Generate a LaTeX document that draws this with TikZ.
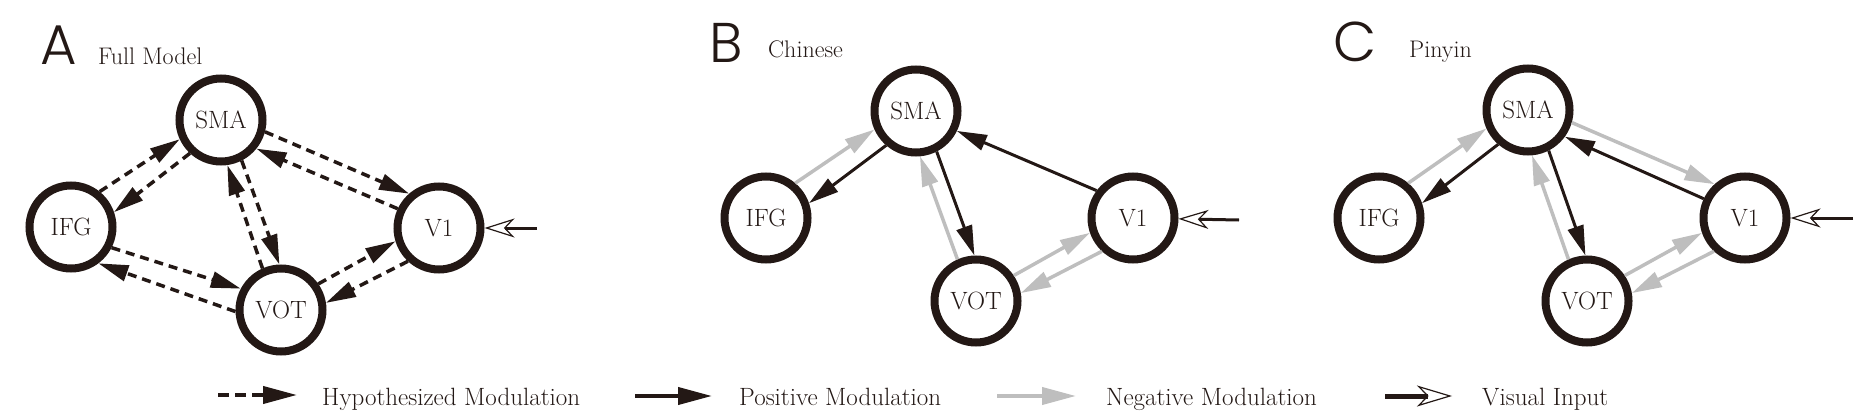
\documentclass[tikz,border=0pt]{standalone}
\usepackage{fontspec}
\usepackage{tikz}
\usetikzlibrary{arrows.meta}
\newfontfamily\panelfont{Poppins Light}
\definecolor{inkcol}{RGB}{35,24,21}
\definecolor{negcol}{RGB}{190,190,190}

\begin{document}
\begin{tikzpicture}[x=1pt, y=-1pt,
    region/.style={draw=inkcol, circle, line width=8pt, minimum size=83pt, inner sep=0pt, text=inkcol, font=\fontsize{25}{25}\selectfont},
    hypmod/.style={-{Triangle[length=30pt,width=16pt]}, draw=inkcol, line width=3.5pt, dash pattern=on 9pt off 6pt},
    posmod/.style={-{Triangle[length=30pt,width=16pt]}, draw=inkcol, line width=3pt},
    negmod/.style={-{Triangle[length=30pt,width=16pt]}, draw=negcol, line width=3.5pt},
    vismod/.style={-{Stealth[open,length=30pt,width=19pt,inset=9pt,line width=1.2pt]}, draw=inkcol, line width=3pt},
    keytip/.style={-{Triangle[length=34pt,width=17pt]}, line width=4pt},
    panel/.style={text=inkcol, anchor=base west, inner sep=0pt, font=\panelfont\fontsize{56}{56}\selectfont},
    title/.style={text=inkcol, anchor=base west, inner sep=0pt, font=\fontsize{24}{24}\selectfont},
    key/.style={text=inkcol, anchor=base west, inner sep=0pt, font=\fontsize{25}{25}\selectfont}]
    \useasboundingbox (0,0) rectangle (1863,420);

    % A: full model
    \node (letA) [panel] at (40,65) {A};
    \node (titA) [title] at (98,64) {Full Model};
    \node (smaA) [region] at (221,120) {SMA};
    \node (ifgA) [region] at (71,227) {IFG};
    \node (v1A) [region] at (439,228) {V1};
    \node (votA) [region] at (281,310) {VOT};
    \coordinate (inA) at (537,228);

    \draw[hypmod] (ifgA.51) -- (smaA.205);
    \draw[hypmod] (smaA.227) -- (ifgA.19);
    \draw[hypmod] (smaA.345) -- (v1A.131);
    \draw[hypmod] (v1A.155) -- (smaA.321);
    \draw[hypmod] (votA.114) -- (smaA.278);
    \draw[hypmod] (smaA.297) -- (votA.92);
    \draw[hypmod] (ifgA.333) -- (votA.152);
    \draw[hypmod] (votA.182) -- (ifgA.307);
    \draw[hypmod] (votA.35) -- (v1A.197);
    \draw[hypmod] (v1A.227) -- (votA.9);
    \draw[vismod] (inA) -- (v1A);

    % B: Chinese
    \node (letB) [panel] at (709,63) {B};
    \node (titB) [title] at (768,58) {Chinese};
    \node (smaB) [region] at (916,111) {SMA};
    \node (ifgB) [region] at (766,218) {IFG};
    \node (v1B) [region] at (1133,218) {V1};
    \node (votB) [region] at (976,301) {VOT};
    \coordinate (inB) at (1239,220);

    \draw[negmod] (ifgB.50) -- (smaB.204);
    \draw[posmod] (smaB.229) -- (ifgB.19);
    \draw[posmod] (smaB.297) -- (votB.92);
    \draw[negmod] (votB.114) -- (smaB.275);
    \draw[posmod] (v1B.143) -- (smaB.334);
    \draw[negmod] (votB.34) -- (v1B.199);
    \draw[negmod] (v1B.227) -- (votB.10);
    \draw[vismod] (inB) -- (v1B);

    % C: Pinyin
    \node (letC) [panel] at (1333,62) {C};
    \node (titC) [title] at (1409,58) {Pinyin};
    \node (smaC) [region] at (1528,110) {SMA};
    \node (ifgC) [region] at (1379,218) {IFG};
    \node (v1C) [region] at (1745,218) {V1};
    \node (votC) [region] at (1587,301) {VOT};
    \coordinate (inC) at (1853,218);

    \draw[negmod] (ifgC.50) -- (smaC.204);
    \draw[posmod] (smaC.229) -- (ifgC.19);
    \draw[posmod] (smaC.297) -- (votC.92);
    \draw[negmod] (votC.114) -- (smaC.275);
    \draw[negmod] (smaC.344) -- (v1C.132);
    \draw[posmod] (v1C.155) -- (smaC.324);
    \draw[negmod] (votC.34) -- (v1C.199);
    \draw[negmod] (v1C.227) -- (votC.10);
    \draw[vismod] (inC) -- (v1C);

    % legend
    \coordinate (hypS) at (218,395);
    \coordinate (hypE) at (297,395);
    \coordinate (posS) at (635,396);
    \coordinate (posE) at (712,396);
    \coordinate (negS) at (997,396);
    \coordinate (negE) at (1076,396);
    \coordinate (visS) at (1385,396);
    \coordinate (visE) at (1452,396);

    \draw[hypmod, keytip, dash pattern=on 11pt off 6pt] (hypS) -- (hypE);
    \draw[posmod, keytip] (posS) -- (posE);
    \draw[negmod, keytip] (negS) -- (negE);
    \draw[vismod, -{Stealth[open,length=35pt,width=21pt,inset=10pt,line width=1.2pt]}, line width=5pt] (visS) -- (visE);

    \node (hypL) [key] at (322,405) {Hypothesized Modulation};
    \node (posL) [key] at (739,405) {Positive Modulation};
    \node (negL) [key] at (1106,405) {Negative Modulation};
    \node (visL) [key] at (1482,405) {Visual Input};
\end{tikzpicture}
\end{document}
